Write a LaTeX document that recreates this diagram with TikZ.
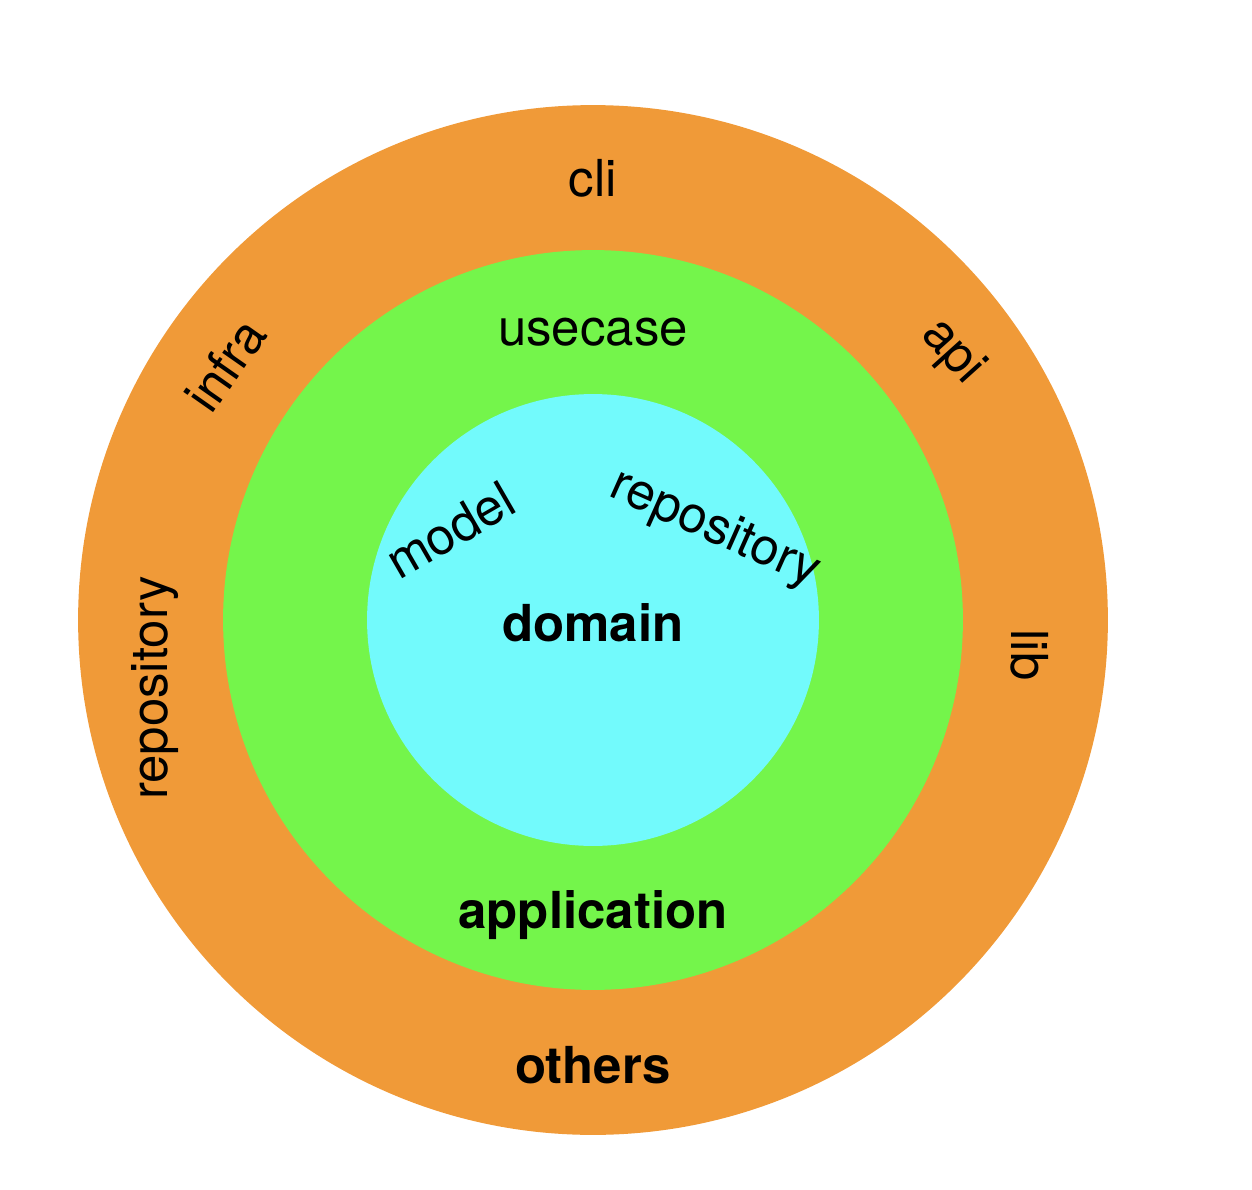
\documentclass[tikz,border=0pt]{standalone}
\usepackage{fontspec}
\setmainfont{TeX Gyre Heros}
\definecolor{outerorange}{HTML}{F09A38}
\definecolor{midgreen}{HTML}{74F54B}
\definecolor{innercyan}{HTML}{72FAFC}
\tikzset{
  layer/.style={circle,inner sep=0pt},
  lbl/.style={font=\fontsize{29}{34}\selectfont,inner sep=0pt},
  title/.style={lbl,font=\fontsize{29}{34}\selectfont\bfseries}
}
\begin{document}
\begin{tikzpicture}[x=0.02cm,y=-0.02cm]
\useasboundingbox (0,0) rectangle (1252,1190);
\node[layer,fill=outerorange,minimum size=20.6cm] (others) at (593,620) {};
\node[layer,fill=midgreen,minimum size=14.8cm] (app) at (593,620) {};
\node[layer,fill=innercyan,minimum size=9.04cm] (dom) at (593,620) {};
\node[lbl] (cli) at (593,178) {cli};
\node[lbl,rotate=55] (infra) at (225,365) {infra};
\node[lbl,rotate=-48] (api) at (952,352) {api};
\node[lbl,rotate=-90] (lib) at (1030,655) {lib};
\node[lbl,rotate=90] (orepo) at (155,688) {repository};
\node[lbl] (usecase) at (593,332) {usecase};
\node[lbl,rotate=30] (model) at (450,530) {model};
\node[lbl,rotate=-24] (drepo) at (715,530) {repository};
\node[title] (domain) at (593,623) {domain};
\node[title] (application) at (593,915) {application};
\node[title] (otherslbl) at (593,1065) {others};
\end{tikzpicture}
\end{document}
